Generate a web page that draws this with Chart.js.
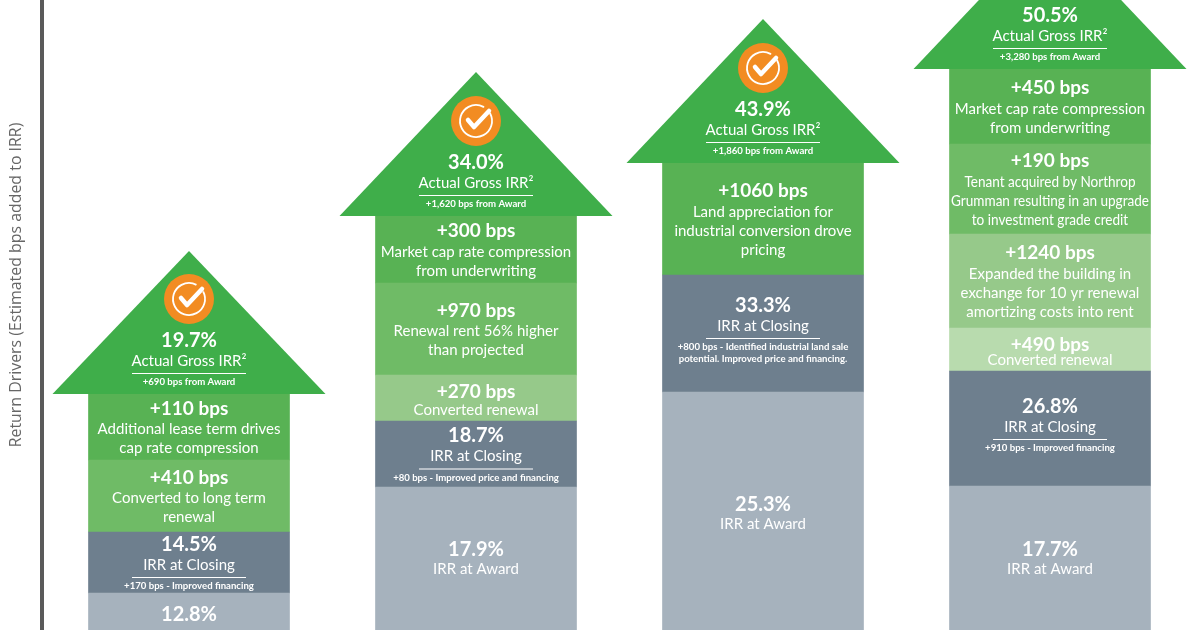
<!DOCTYPE html>
<html>
<head>
<meta charset="utf-8">
<style>
  html, body { margin: 0; background: #fff; }
  canvas { display: block; }
</style>
<script src="https://cdn.jsdelivr.net/npm/chart.js@4/dist/chart.umd.min.js"></script>
</head>
<body>
<canvas id="irrChart" width="1200" height="630"></canvas>
<script>
// segment heights (the graphic is not drawn to the bps scale)
const deals = ['Deal 1', 'Deal 2', 'Deal 3', 'Deal 4'];
const awardHeight = [37, 143, 238, 144];
const closingHeight = [61, 66, 117, 115];
const driver1Height = [72, 46, 112, 43];
const driver2Height = [66, 92, null, 94];
const driver3Height = [null, 67, null, 90];
const driver4Height = [null, null, null, 75];
const headHeight = [143, 144, 144, 144];

const awardRate = ['12.8%', '17.9%', '25.3%', '17.7%'];
const closingRate = ['14.5%', '18.7%', '33.3%', '26.8%'];
const actualRate = ['19.7%', '34.0%', '43.9%', '50.5%'];

const closingNote = [
  ['+170 bps - Improved financing'],
  ['+80 bps - Improved price and financing'],
  ['+800 bps - Identified industrial land sale', 'potential. Improved price and financing.'],
  ['+910 bps - Improved financing']
];
const actualNote = ['+690 bps from Award', '+1,620 bps from Award', '+1,860 bps from Award', '+3,280 bps from Award'];

const driver1Bps = ['+410 bps', '+270 bps', '+1060 bps', '+490 bps'];
const driver1Text = [
  ['Converted to long term', 'renewal'],
  ['Converted renewal'],
  ['Land appreciation for', 'industrial conversion drove', 'pricing'],
  ['Converted renewal']
];
const driver2Bps = ['+110 bps', '+970 bps', null, '+1240 bps'];
const driver2Text = [
  ['Additional lease term drives', 'cap rate compression'],
  ['Renewal rent 56% higher', 'than projected'],
  null,
  ['Expanded the building in', 'exchange for 10 yr renewal', 'amortizing costs into rent']
];
const driver3Bps = [null, '+300 bps', null, '+190 bps'];
const driver3Text = [
  null,
  ['Market cap rate compression', 'from underwriting'],
  null,
  ['Tenant acquired by Northrop', 'Grumman resulting in an upgrade', 'to investment grade credit']
];
const driver4Bps = [null, null, null, '+450 bps'];
const driver4Text = [null, null, null, ['Market cap rate compression', 'from underwriting']];

const AWARD = '#a6b2bd', CLOSING = '#6e7f8e', HEAD = '#3fae4a';
const G1 = '#58b254', G2 = '#6fbb66', G3 = '#96c98a', G4 = '#b8dbae';
const FONT = 'Lato';
const BODY = 15, BPS = 19, PCT = 20, NOTE = 9.6;

function font(size, weight) { return (weight || 'normal') + ' ' + size + 'px ' + FONT; }

function line(ctx, text, x, y, size, weight, maxWidth) {
  ctx.font = font(size, weight);
  if (maxWidth) ctx.fillText(text, x, y, maxWidth);
  else ctx.fillText(text, x, y);
}

// width to give each line so the widest one still fits the bar, same squeeze for all
function fitWidths(ctx, lines) {
  ctx.font = font(BODY);
  const widths = lines.map(t => ctx.measureText(t).width);
  const squeeze = Math.min(1, 198 / Math.max(...widths));
  return widths.map(w => w * squeeze);
}

function awardLabel(ctx, bar, rate) {
  const h = bar.base - bar.y;
  let y = bar.y + h / 2 - 8.5;
  if (h > 200) y += 2;
  // first bar is cut by the bottom edge, its caption falls off the picture
  const cut = h < 40;
  if (cut) y = bar.y + 22;
  line(ctx, rate, bar.x, y, PCT, 'bold');
  line(ctx, 'IRR at Award', bar.x, y + (cut ? 26 : 19.5), BODY);
}

function closingLabel(ctx, bar, rate, notes) {
  const h = bar.base - bar.y;
  let y = bar.y + h / 2 - 20.5 - (notes.length - 1) * 6;
  y += h > 100 ? -1.5 : 2.5;
  line(ctx, rate, bar.x, y, PCT, 'bold');
  y += 20.5;
  line(ctx, 'IRR at Closing', bar.x, y, BODY);
  y += 12;
  ctx.fillRect(bar.x - 57, y, 114, 1);
  y += 9;
  notes.forEach((t, i) => line(ctx, t, bar.x, y + i * 12, NOTE, 'bold'));
}

function driverLabel(ctx, bar, bps, lines) {
  const h = bar.base - bar.y;
  const single = lines.length === 1;
  const gap = single ? (h < 45 ? 15 : 19) : 21;
  let y = bar.y + h / 2 - (gap + (lines.length - 1) * 19) / 2;
  y += single ? 3 : 1.5;
  line(ctx, bps, bar.x, y, BPS, 'bold');
  y += gap;
  const widths = fitWidths(ctx, lines);
  lines.forEach((t, i) => line(ctx, t, bar.x, y + i * 19, BODY, 'normal', widths[i]));
}

function checkIcon(ctx, x, y) {
  ctx.fillStyle = '#f28c22';
  ctx.beginPath();
  ctx.arc(x, y, 25, 0, Math.PI * 2);
  ctx.fill();
  ctx.strokeStyle = '#fff';
  ctx.lineWidth = 1.8;
  ctx.beginPath();
  ctx.arc(x, y, 16, -0.25 * Math.PI + 0.3, -0.25 * Math.PI - 0.3 + Math.PI * 2);
  ctx.stroke();
  ctx.lineWidth = 4.5;
  ctx.lineCap = 'round';
  ctx.lineJoin = 'round';
  ctx.beginPath();
  ctx.moveTo(x - 8, y - 1);
  ctx.lineTo(x - 2, y + 6);
  ctx.lineTo(x + 13, y - 10);
  ctx.stroke();
}

const arrowPlugin = {
  id: 'arrowPlugin',
  afterDatasetsDraw(chart) {
    const ctx = chart.ctx;
    const area = chart.chartArea;
    ctx.save();

    // axis line and title sit left of the plot
    ctx.fillStyle = '#5a5a5a';
    ctx.fillRect(40, 0, 4, area.bottom);
    ctx.save();
    ctx.translate(16, 285);
    ctx.rotate(-Math.PI / 2);
    ctx.textAlign = 'center';
    ctx.textBaseline = 'middle';
    ctx.fillStyle = '#666';
    ctx.font = '15.9px "Open Sans"';
    ctx.fillText('Return Drivers (Estimated bps added to IRR)', 0, 0);
    ctx.restore();

    // arrow heads use the invisible last dataset
    const headMeta = chart.getDatasetMeta(chart.data.datasets.length - 1);
    headMeta.data.forEach((bar, i) => {
      ctx.fillStyle = HEAD;
      ctx.beginPath();
      ctx.moveTo(bar.x, bar.y);
      ctx.lineTo(bar.x + 136.5, bar.base);
      ctx.lineTo(bar.x - 136.5, bar.base);
      ctx.closePath();
      ctx.fill();
      checkIcon(ctx, bar.x, bar.base - 95);

      ctx.fillStyle = '#fff';
      ctx.textAlign = 'center';
      ctx.textBaseline = 'middle';
      line(ctx, actualRate[i], bar.x, bar.base - 53, PCT, 'bold');
      line(ctx, 'Actual Gross IRR\u00b2', bar.x, bar.base - 33, BODY);
      ctx.fillRect(bar.x - 57, bar.base - 21, 114, 1);
      line(ctx, actualNote[i], bar.x, bar.base - 12, NOTE, 'bold');
    });

    ctx.fillStyle = '#fff';
    ctx.textAlign = 'center';
    ctx.textBaseline = 'middle';
    chart.getDatasetMeta(0).data.forEach((bar, i) => awardLabel(ctx, bar, awardRate[i]));
    chart.getDatasetMeta(1).data.forEach((bar, i) => closingLabel(ctx, bar, closingRate[i], closingNote[i]));
    [[driver1Bps, driver1Text], [driver2Bps, driver2Text], [driver3Bps, driver3Text], [driver4Bps, driver4Text]].forEach((pair, d) => {
      chart.getDatasetMeta(d + 2).data.forEach((bar, i) => {
        if (pair[0][i]) driverLabel(ctx, bar, pair[0][i], pair[1][i]);
      });
    });
    ctx.restore();
  }
};

const barOpts = { stack: 'irr', barThickness: 201, borderWidth: 0 };

new Chart(document.getElementById('irrChart'), {
  type: 'bar',
  data: {
    labels: deals,
    datasets: [
      { label: 'IRR at Award', data: awardHeight, backgroundColor: AWARD, ...barOpts },
      { label: 'IRR at Closing', data: closingHeight, backgroundColor: CLOSING, ...barOpts },
      { label: 'Driver 1', data: driver1Height, backgroundColor: [G2, G3, G1, G4], ...barOpts },
      { label: 'Driver 2', data: driver2Height, backgroundColor: [G1, G2, G2, G3], ...barOpts },
      { label: 'Driver 3', data: driver3Height, backgroundColor: [G1, G1, G1, G2], ...barOpts },
      { label: 'Driver 4', data: driver4Height, backgroundColor: G1, ...barOpts },
      { label: 'Actual Gross IRR', data: headHeight, backgroundColor: 'transparent', ...barOpts }
    ]
  },
  options: {
    responsive: false,
    animation: false,
    devicePixelRatio: 1,
    layout: { padding: { left: 45.5, right: 6.5 } },
    plugins: { legend: { display: false }, tooltip: { enabled: false } },
    scales: {
      x: { display: false, stacked: true },
      y: { display: false, stacked: true, min: 0, max: 630 }
    }
  },
  plugins: [arrowPlugin]
});
</script>
</body>
</html>
